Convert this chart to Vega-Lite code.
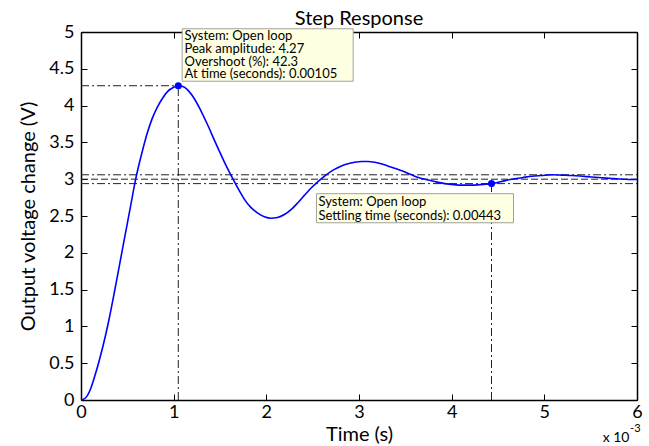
{
  "$schema": "https://vega.github.io/schema/vega-lite/v6.json",
  "width": 556,
  "height": 368,
  "autosize": "none",
  "padding": {"left": 81, "top": 32, "right": 12, "bottom": 46},
  "background": "white",
  "config": {
    "view": {"stroke": null},
    "font": "Lato",
    "axis": {
      "domainColor": "black",
      "domainWidth": 1.5,
      "tickColor": "black",
      "tickWidth": 1,
      "tickSize": -6,
      "grid": false,
      "labelFont": "Lato",
      "labelFontSize": 18,
      "labelColor": "black",
      "titleFont": "Lato",
      "titleFontSize": 20,
      "titleFontWeight": "normal",
      "titleColor": "black"
    }
  },
  "title": {
    "text": "Step Response",
    "font": "Lato",
    "fontSize": 20,
    "fontWeight": "normal",
    "color": "black",
    "anchor": "middle",
    "offset": -6
  },
  "datasets": {
    "response": [
      {"t": 0, "v": 0},
      {"t": 0.05, "v": 0.03},
      {"t": 0.1, "v": 0.14},
      {"t": 0.157, "v": 0.36},
      {"t": 0.2, "v": 0.55},
      {"t": 0.265, "v": 0.88},
      {"t": 0.3, "v": 1.08},
      {"t": 0.355, "v": 1.43},
      {"t": 0.4, "v": 1.73},
      {"t": 0.446, "v": 2.04},
      {"t": 0.5, "v": 2.4},
      {"t": 0.536, "v": 2.64},
      {"t": 0.59, "v": 3.0},
      {"t": 0.662, "v": 3.38},
      {"t": 0.716, "v": 3.63},
      {"t": 0.77, "v": 3.83},
      {"t": 0.824, "v": 3.98},
      {"t": 0.88, "v": 4.1},
      {"t": 0.933, "v": 4.19},
      {"t": 1.0, "v": 4.25},
      {"t": 1.05, "v": 4.27},
      {"t": 1.1, "v": 4.26},
      {"t": 1.16, "v": 4.2},
      {"t": 1.22, "v": 4.1},
      {"t": 1.29, "v": 3.94},
      {"t": 1.366, "v": 3.74},
      {"t": 1.45, "v": 3.5},
      {"t": 1.545, "v": 3.24},
      {"t": 1.6, "v": 3.1},
      {"t": 1.654, "v": 2.97},
      {"t": 1.71, "v": 2.84},
      {"t": 1.762, "v": 2.73},
      {"t": 1.83, "v": 2.62},
      {"t": 1.907, "v": 2.54},
      {"t": 1.98, "v": 2.49},
      {"t": 2.05, "v": 2.47},
      {"t": 2.12, "v": 2.48},
      {"t": 2.195, "v": 2.52},
      {"t": 2.27, "v": 2.59},
      {"t": 2.34, "v": 2.68},
      {"t": 2.41, "v": 2.78},
      {"t": 2.484, "v": 2.88},
      {"t": 2.56, "v": 2.97},
      {"t": 2.646, "v": 3.06},
      {"t": 2.73, "v": 3.13},
      {"t": 2.81, "v": 3.18},
      {"t": 2.88, "v": 3.21},
      {"t": 2.952, "v": 3.23},
      {"t": 3.03, "v": 3.24},
      {"t": 3.097, "v": 3.24},
      {"t": 3.17, "v": 3.23},
      {"t": 3.24, "v": 3.21},
      {"t": 3.31, "v": 3.18},
      {"t": 3.385, "v": 3.15},
      {"t": 3.47, "v": 3.11},
      {"t": 3.566, "v": 3.06},
      {"t": 3.65, "v": 3.02},
      {"t": 3.747, "v": 2.99},
      {"t": 3.84, "v": 2.96},
      {"t": 3.926, "v": 2.94},
      {"t": 4.0, "v": 2.93},
      {"t": 4.07, "v": 2.92},
      {"t": 4.16, "v": 2.92},
      {"t": 4.25, "v": 2.92},
      {"t": 4.34, "v": 2.93},
      {"t": 4.43, "v": 2.94},
      {"t": 4.54, "v": 2.97},
      {"t": 4.648, "v": 3.0},
      {"t": 4.76, "v": 3.02},
      {"t": 4.865, "v": 3.04},
      {"t": 4.97, "v": 3.05},
      {"t": 5.08, "v": 3.06},
      {"t": 5.19, "v": 3.055},
      {"t": 5.3, "v": 3.05},
      {"t": 5.41, "v": 3.04},
      {"t": 5.51, "v": 3.03},
      {"t": 5.62, "v": 3.02},
      {"t": 5.73, "v": 3.01},
      {"t": 5.86, "v": 3.0},
      {"t": 6.0, "v": 2.995}
    ],
    "guides": [
      {"t": 0, "t2": 1.05, "v": 4.27, "v2": 4.27, "kind": "dashdot"},
      {"t": 1.05, "t2": 1.05, "v": 0, "v2": 4.27, "kind": "dashdot"},
      {"t": 0, "t2": 6, "v": 3.06, "v2": 3.06, "kind": "dashdot"},
      {"t": 0, "t2": 6, "v": 2.94, "v2": 2.94, "kind": "dashdot"},
      {"t": 0, "t2": 6, "v": 3.0, "v2": 3.0, "kind": "dash"},
      {"t": 4.43, "t2": 4.43, "v": 0, "v2": 2.94, "kind": "dashdot"}
    ],
    "markers": [
      {"t": 1.05, "v": 4.27},
      {"t": 4.43, "v": 2.94}
    ],
    "boxes": [
      {"t": 1.092, "t2": 2.937, "v": 5.044, "v2": 4.331},
      {"t": 2.541, "t2": 4.667, "v": 2.803, "v2": 2.408}
    ],
    "notes": [
      {"t": 1.117, "v": 4.952, "label": "System: Open loop"},
      {"t": 1.117, "v": 4.771, "label": "Peak amplitude: 4.27"},
      {"t": 1.117, "v": 4.589, "label": "Overshoot (%): 42.3"},
      {"t": 1.117, "v": 4.431, "label": "At time (seconds): 0.00105"},
      {"t": 2.563, "v": 2.684, "label": "System: Open loop"},
      {"t": 2.563, "v": 2.503, "label": "Settling time (seconds): 0.00443"}
    ]
  },
  "layer": [
    {
      "data": {"name": "guides"},
      "mark": {"type": "rule", "color": "#222222", "strokeWidth": 1},
      "encoding": {
        "x": {
          "field": "t", "type": "quantitative",
          "scale": {"domain": [0, 6], "nice": false},
          "axis": {"orient": "bottom", "values": [0, 1, 2, 3, 4, 5, 6], "format": "~g", "title": "Time (s)", "labelPadding": 9, "titlePadding": 3, "labelFlush": false}
        },
        "x2": {"field": "t2"},
        "y": {
          "field": "v", "type": "quantitative",
          "scale": {"domain": [0, 5], "nice": false},
          "axis": {"orient": "left", "values": [0, 0.5, 1, 1.5, 2, 2.5, 3, 3.5, 4, 4.5, 5], "format": "~g", "title": "Output voltage change (V)", "labelPadding": 13, "titlePadding": 10, "labelFlush": false}
        },
        "y2": {"field": "v2"},
        "strokeDash": {
          "field": "kind", "type": "nominal",
          "scale": {"domain": ["dashdot", "dash"], "range": [[8, 3, 2, 3], [7, 3]]},
          "legend": null
        }
      }
    },
    {
      "data": {"name": "response"},
      "mark": {"type": "line", "color": "#0000FF", "strokeWidth": 1.6, "interpolate": "monotone"},
      "encoding": {
        "x": {
          "field": "t", "type": "quantitative",
          "scale": {"domain": [0, 6], "nice": false},
          "axis": {"orient": "top", "values": [0, 1, 2, 3, 4, 5, 6], "labels": false, "title": null}
        },
        "y": {
          "field": "v", "type": "quantitative",
          "scale": {"domain": [0, 5], "nice": false},
          "axis": {"orient": "right", "values": [0, 0.5, 1, 1.5, 2, 2.5, 3, 3.5, 4, 4.5, 5], "labels": false, "title": null}
        }
      }
    },
    {
      "data": {"name": "markers"},
      "mark": {"type": "point", "filled": true, "color": "#0000FF", "size": 50, "opacity": 1},
      "encoding": {
        "x": {"field": "t", "type": "quantitative", "axis": null},
        "y": {"field": "v", "type": "quantitative", "axis": null}
      }
    },
    {
      "data": {"name": "boxes"},
      "mark": {"type": "rect", "fill": "#FFFFE1", "stroke": "#A0A0A0", "strokeWidth": 1},
      "encoding": {
        "x": {"field": "t", "type": "quantitative", "axis": null},
        "x2": {"field": "t2"},
        "y": {"field": "v", "type": "quantitative", "axis": null},
        "y2": {"field": "v2"}
      }
    },
    {
      "data": {"name": "notes"},
      "mark": {"type": "text", "align": "left", "baseline": "middle", "font": "Lato", "fontSize": 13, "color": "black"},
      "encoding": {
        "x": {"field": "t", "type": "quantitative", "axis": null},
        "y": {"field": "v", "type": "quantitative", "axis": null},
        "text": {"field": "label"}
      }
    },
    {
      "data": {"values": [{"t": 5.919, "v": -0.517, "label": "x 10"}]},
      "mark": {"type": "text", "align": "right", "baseline": "middle", "font": "Lato", "fontSize": 14, "color": "black"},
      "encoding": {
        "x": {"field": "t", "type": "quantitative", "axis": null},
        "y": {"field": "v", "type": "quantitative", "axis": null},
        "text": {"field": "label"}
      }
    },
    {
      "data": {"values": [{"t": 5.925, "v": -0.39, "label": "-3"}]},
      "mark": {"type": "text", "align": "left", "baseline": "middle", "font": "Lato", "fontSize": 11, "color": "black"},
      "encoding": {
        "x": {"field": "t", "type": "quantitative", "axis": null},
        "y": {"field": "v", "type": "quantitative", "axis": null},
        "text": {"field": "label"}
      }
    }
  ],
  "resolve": {"axis": {"x": "independent", "y": "independent"}}
}
